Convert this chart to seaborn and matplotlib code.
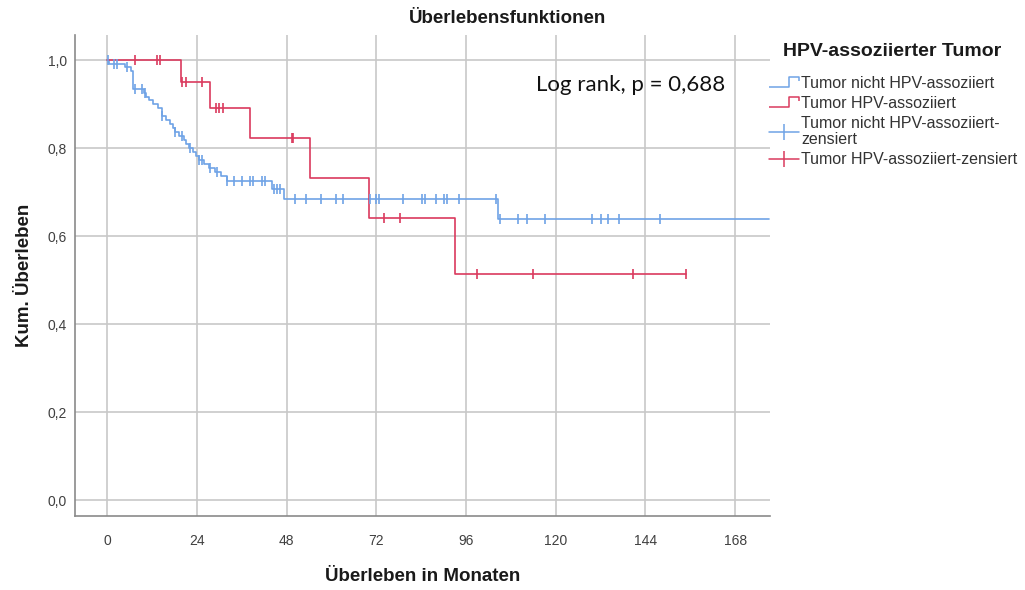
import numpy as np
import pandas as pd
import matplotlib
matplotlib.use("Agg")
import matplotlib.pyplot as plt
from matplotlib.lines import Line2D
from matplotlib.path import Path
import seaborn as sns

# ---- data ----
blue_times = [0.0, 0.6, 4.8, 6.3, 7.0, 9.8, 10.4, 11.2, 12.3, 13.5, 14.6, 15.8, 16.9, 17.6,
              18.2, 19.3, 20.5, 21.2, 21.8, 22.9, 23.8, 24.5, 25.8, 27.2, 28.9, 30.4,
              32.0, 44.0, 47.2, 104.5]
blue_surv = [1.0, 0.992, 0.984, 0.975, 0.934, 0.925, 0.917, 0.909, 0.900, 0.891, 0.873, 0.864,
             0.855, 0.846, 0.837, 0.828, 0.819, 0.810, 0.801, 0.792, 0.782, 0.773, 0.764,
             0.755, 0.745, 0.736, 0.726, 0.706, 0.684, 0.638]
blue_end = 177.0
blue_cens = [0.3, 1.7, 2.6, 5.3, 7.5, 9.3, 10.2, 14.6, 18.2, 19.9, 22.2, 24.5, 25.3, 27.5,
             29.3, 32.0, 34.0, 36.0, 38.2, 39.1, 41.4, 42.2, 44.5, 45.4, 46.3, 50.3, 53.2,
             57.2, 61.2, 63.0, 70.3, 71.9, 72.8, 79.1, 84.1, 85.0, 88.0, 90.0, 90.8, 94.1,
             104.0, 105.1, 110.0, 112.2, 117.1, 129.8, 132.0, 134.0, 136.9, 147.9]

red_times = [0.0, 19.8, 27.5, 38.2, 54.3, 70.1, 93.0]
red_surv = [1.0, 0.951, 0.892, 0.824, 0.733, 0.642, 0.513]
red_end = 154.8
red_cens = [7.5, 13.3, 14.2, 19.9, 21.2, 25.4, 29.1, 30.0, 31.1, 49.4, 49.8, 74.0, 78.2,
            99.0, 114.0, 140.7, 154.8]

x_ticks = [0, 24, 48, 72, 96, 120, 144, 168]
y_ticks = [0.0, 0.2, 0.4, 0.6, 0.8, 1.0]
y_ticklabels = ["0,0", "0,2", "0,4", "0,6", "0,8", "1,0"]

legend_title = "HPV-assoziierter Tumor"
labels = ["Tumor nicht HPV-assoziiert", "Tumor HPV-assoziiert",
          "Tumor nicht HPV-assoziiert-\nzensiert", "Tumor HPV-assoziiert-zensiert"]

BLUE = "#6FA3E6"
RED = "#DA3A5E"
GRID = "#C8C8C8"
TXT = "#404040"

sns.set_theme(style="white")
plt.rcParams["font.family"] = ["Liberation Sans", "DejaVu Sans"]

fig = plt.figure(figsize=(10.25, 5.9), dpi=100)
ax = fig.add_axes([0.0732, 0.1254, 0.678, 0.8153])


def curve_df(times, surv, end):
    t = list(times) + [end]
    s = list(surv) + [surv[-1]]
    return pd.DataFrame({"t": t, "s": s})


def cens_df(times, surv, cens):
    idx = np.searchsorted(np.array(times), np.array(cens), side="right") - 1
    return pd.DataFrame({"t": cens, "s": np.array(surv)[idx]})


for times, surv, end, cens, col in [
    (blue_times, blue_surv, blue_end, blue_cens, BLUE),
    (red_times, red_surv, red_end, red_cens, RED),
]:
    sns.lineplot(data=curve_df(times, surv, end), x="t", y="s", ax=ax, color=col,
                 linewidth=1.2, drawstyle="steps-post", estimator=None, sort=False,
                 zorder=3)
    sns.scatterplot(data=cens_df(times, surv, cens), x="t", y="s", ax=ax, color=col,
                    marker="|", s=45, linewidth=1.2, zorder=4)

ax.set_xlim(-8.6, 177.3)
ax.set_ylim(-0.036, 1.057)
ax.set_xticks(x_ticks)
ax.set_xticklabels([str(v) for v in x_ticks])
ax.set_yticks(y_ticks)
ax.set_yticklabels(y_ticklabels)
ax.grid(True, color=GRID, linewidth=1.2)
ax.set_axisbelow(True)
for sp in ["top", "right"]:
    ax.spines[sp].set_visible(False)
for sp in ["left", "bottom"]:
    ax.spines[sp].set_color("#8A8A8A")
    ax.spines[sp].set_linewidth(1.2)
ax.tick_params(axis="both", length=0, labelsize=10, colors=TXT)
ax.tick_params(axis="x", pad=13)
ax.tick_params(axis="y", pad=6)

ax.set_xlabel("Überleben in Monaten", fontsize=13.5, fontweight="bold", color="#1a1a1a",
              labelpad=14)
ax.set_ylabel("Kum. Überleben", fontsize=13.5, fontweight="bold", color="#1a1a1a",
              labelpad=10)

fig.text(0.495, 0.969, "Überlebensfunktionen", ha="center", va="center", fontsize=13.5,
         fontweight="bold", color="#1a1a1a")

ax.text(0.664, 0.897, "Log rank, p = 0,688", transform=ax.transAxes, fontsize=16,
        family=["Lato", "DejaVu Sans"], color="#111111", ha="left", va="center")

# legend
fig.text(783 / 1025, 1 - 52 / 590, legend_title, ha="left", va="center", fontsize=14,
         fontweight="bold", color="#1a1a1a")

step_path = Path([(-1.0, -0.3), (0.35, -0.3), (0.35, 0.3), (1.0, 0.3), (1.0, 0.05)],
                 [Path.MOVETO, Path.LINETO, Path.LINETO, Path.LINETO, Path.LINETO])
handles = [
    Line2D([], [], linestyle="none", marker=step_path, markersize=22,
           markerfacecolor="none", markeredgecolor=BLUE, markeredgewidth=1.1),
    Line2D([], [], linestyle="none", marker=step_path, markersize=22,
           markerfacecolor="none", markeredgecolor=RED, markeredgewidth=1.1),
    Line2D([], [], color=BLUE, linewidth=1.1, marker="|", markersize=11,
           markeredgewidth=1.1),
    Line2D([], [], color=RED, linewidth=1.1, marker="|", markersize=11,
           markeredgewidth=1.1),
]
leg = fig.legend(handles, labels, loc="upper left", bbox_to_anchor=(0.750, 1 - 76 / 590),
                 frameon=False, fontsize=11.5, borderpad=0, borderaxespad=0,
                 handlelength=1.9, handletextpad=0.15, labelspacing=0.3, numpoints=1)
for t in leg.get_texts():
    t.set_color("#333333")
    t.set_linespacing(1.15)

fig.savefig("out.png", dpi=100, facecolor="white")
